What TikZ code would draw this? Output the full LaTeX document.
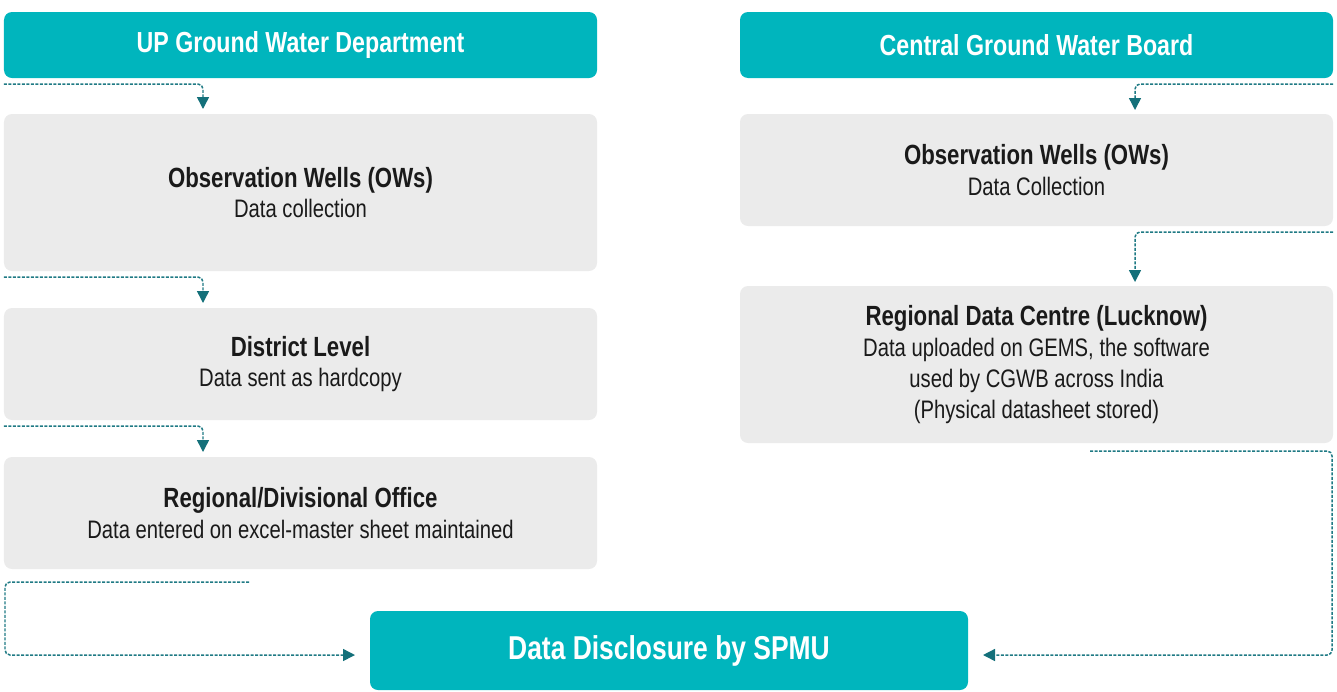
\documentclass[tikz,border=0pt]{standalone}
\usepackage{fontspec}
\setmainfont[FakeStretch=0.8]{Liberation Sans}
\usepackage{tikz}
\usetikzlibrary{arrows.meta,positioning,calc}

\definecolor{teal}{HTML}{00B5BD}
\definecolor{panel}{HTML}{EBEBEB}
\definecolor{flowline}{HTML}{1F7A84}
\definecolor{flowtip}{HTML}{14707A}
\definecolor{ink}{HTML}{1A1A1A}
\newcommand{\headfont}{\fontsize{15.8}{17.5}\selectfont\bfseries}

\begin{document}
\begin{tikzpicture}[
  head/.style={rectangle, rounded corners=0.16cm, fill=teal, text=white, minimum width=11.86cm, minimum height=1.32cm, inner sep=0pt, outer sep=0pt, font=\fontsize{16.5}{19}\selectfont\bfseries},
  stage/.style={rectangle, rounded corners=0.16cm, fill=panel, text=ink, minimum width=11.86cm, inner sep=0pt, outer sep=0pt, align=center, font=\fontsize{14.4}{17.5}\selectfont},
  flow/.style={flowline, line width=0.85pt, dash pattern=on 0.06cm off 0.03cm, rounded corners=0.1cm,
    -{Triangle[length=0.24cm, width=0.24cm, color=flowtip, sep=0pt]}}]
  \useasboundingbox (0,0) rectangle (26.74,-13.82);
  % UP Ground Water Department
  \node[head] (up) at (6.01,-0.90) {UP Ground Water Department};
  \node[stage, minimum height=3.14cm] (lobs) at (6.01,-3.85) {{\headfont Observation Wells (OWs)}\\Data collection};
  \node[stage, minimum height=2.24cm] (dist) at (6.01,-7.28) {{\headfont District Level}\\Data sent as hardcopy};
  \node[stage, minimum height=2.24cm] (reg) at (6.01,-10.26) {{\headfont Regional/Divisional Office}\\Data entered on excel-master sheet maintained};
  % Central Ground Water Board
  \node[head] (cgwb) at (20.73,-0.90) {Central Ground Water Board};
  \node[stage, minimum height=2.24cm] (robs) at (20.73,-3.40) {{\headfont Observation Wells (OWs)}\\Data Collection};
  \node[stage, minimum height=3.14cm] (rdc) at (20.73,-7.29) {{\headfont Regional Data Centre (Lucknow)}\\Data uploaded on GEMS, the software\\used by CGWB across India\\(Physical datasheet stored)};
  % SPMU
  \node[head, minimum width=11.96cm, minimum height=1.58cm, font=\fontsize{18.8}{22}\selectfont\bfseries] (spmu) at (13.38,-13.01) {Data Disclosure by SPMU};
  % left column flow
  \draw[flow] ($(up.south west)+(0,-0.12)$) -| ($(lobs.north west)+(3.98,0.10)$);
  \draw[flow] ($(lobs.south west)+(0,-0.12)$) -| ($(dist.north west)+(3.98,0.10)$);
  \draw[flow] ($(dist.south west)+(0,-0.12)$) -| ($(reg.north west)+(3.98,0.10)$);
  \coordinate (lout) at ($(reg.south west)+(4.90,-0.26)$);
  \coordinate (lin) at ($(spmu.west)+(-0.30,-0.09)$);
  \draw[flow] (lout) -| ($(reg.west |- lin)+(0.02,0)$) -- (lin);
  % right column flow
  \draw[flow] ($(cgwb.south east)+(0,-0.12)$) -| ($(robs.north west)+(7.90,0.08)$);
  \draw[flow] ($(robs.south east)+(0,-0.12)$) -| ($(rdc.north west)+(7.90,0.08)$);
  \coordinate (rout) at ($(rdc.south west)+(7.00,-0.16)$);
  \coordinate (rin) at ($(spmu.east)+(0.30,-0.09)$);
  \draw[flow] (rout) -| ($(rdc.east |- rin)+(-0.02,0)$) -- (rin);
\end{tikzpicture}
\end{document}
